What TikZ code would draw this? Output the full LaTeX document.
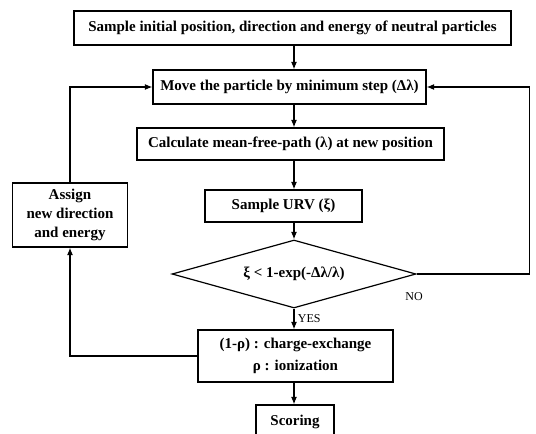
\documentclass[tikz,border=0pt]{standalone}
\usepackage{fontspec}
\setmainfont{Liberation Serif}
\usetikzlibrary{arrows.meta,shapes.geometric}

\tikzset{
  box/.style={draw, line width=1.2pt, font=\fontsize{15}{19}\selectfont\bfseries,
    align=center, inner sep=1pt},
  test/.style={draw, line width=1.2pt, diamond, aspect=3.6, inner sep=0pt,
    font=\fontsize{15}{19}\selectfont\bfseries},
  flow/.style={line width=1.2pt, -{Latex[length=7.5pt,width=6pt]}},
  tag/.style={font=\fontsize{12}{14}\selectfont}
}

\begin{document}
\begin{tikzpicture}[x=1pt,y=-1pt]
  \useasboundingbox (0,0) rectangle (536,434);
  % boxes
  \node[box, minimum width=437pt, minimum height=34pt] (init) at (292.5,28)
    {Sample initial position, direction and energy of neutral particles};
  \node[box, minimum width=273pt, minimum height=34pt] (move) at (289.5,87)
    {Move the particle by minimum step (Δλ)};
  \node[box, minimum width=307pt, minimum height=32pt] (mfp) at (290.5,144)
    {Calculate mean-free-path (λ) at new position};
  \node[box, minimum width=157pt, minimum height=32pt] (urv) at (283.5,206)
    {Sample URV (ξ)};
  \node[test, minimum width=244pt, minimum height=68pt] (test) at (294,274)
    {ξ < 1-exp(-Δλ/λ)};
  \node[box, minimum width=195pt, minimum height=52pt, font=\fontsize{15}{22}\selectfont\bfseries] (react) at (295.5,356)
    {(1-ρ) : charge-exchange\\ ρ : ionization};
  \node[box, minimum width=115pt, minimum height=64pt] (assign) at (70,215)
    {Assign\\ new direction\\ and energy};
  \node[box, minimum width=78pt, minimum height=34pt] (score) at (295,422)
    {Scoring};
  % arrows
  \draw[flow] (init.south -| test) -- (move.north -| test);
  \draw[flow] (move.south -| test) -- (mfp.north -| test);
  \draw[flow] (mfp.south -| test) -- (urv.north -| test);
  \draw[flow] (urv.south -| test) -- (test.north);
  \draw[flow] (test.east) -- ++(113,0) |- (move.east);
  \draw[flow] (test.south) -- node[tag, right] {YES} (react.north -| test);
  \draw[flow] (react.west) -| (assign.south);
  \draw[flow] (assign.north) |- (move.west);
  \draw[flow] (react.south -| test) -- (score.north -| test);
  \node[tag] (no) at (414,297) {NO};
\end{tikzpicture}
\end{document}
